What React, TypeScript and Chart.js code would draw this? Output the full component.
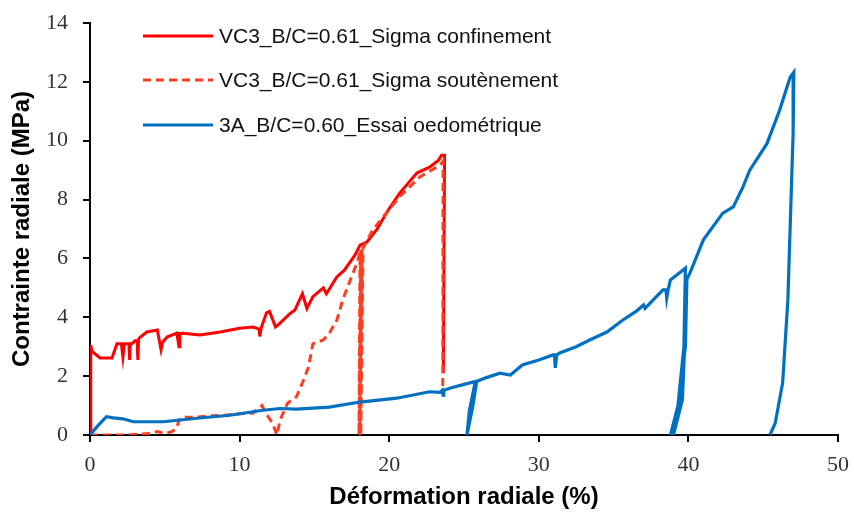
import React, { useEffect, useRef } from "react";
import { Chart, registerables } from "chart.js";

Chart.register(...registerables);

// Déformation radiale (%) / Contrainte radiale (MPa)
const confX = [0, 0.05, 0.12, 0.67, 1.47, 1.8, 2.1, 2.2, 2.3, 2.5, 2.6, 2.65, 2.7, 2.8, 3.0, 3.15, 3.2, 3.25, 3.3, 3.8, 4.5, 4.75, 4.85, 5.15, 5.8, 5.95, 6.0, 6.2, 7.35, 8.7, 10.0, 10.9, 11.3, 11.35, 11.45, 11.8, 12.0, 12.4, 12.7, 13.4, 13.7, 14.2, 14.5, 14.9, 15.6, 15.8, 16.5, 17.0, 17.7, 18.05, 18.5, 19.2, 19.85, 20.7, 21.85, 22.7, 23.3, 23.5, 23.7, 23.62];
const confY = [0, 3.05, 2.85, 2.62, 2.62, 3.1, 3.1, 2.65, 3.1, 3.1, 3.1, 2.55, 3.1, 3.1, 3.2, 3.2, 2.55, 3.25, 3.3, 3.5, 3.57, 2.9, 3.15, 3.33, 3.46, 3.0, 3.45, 3.46, 3.4, 3.5, 3.63, 3.67, 3.6, 3.35, 3.65, 4.15, 4.2, 3.67, 3.8, 4.14, 4.25, 4.8, 4.3, 4.7, 5.0, 4.8, 5.37, 5.6, 6.1, 6.45, 6.55, 7.0, 7.58, 8.22, 8.9, 9.1, 9.34, 9.51, 9.51, 2.1];

const soutX = [0, 1, 2, 3, 4, 4.5, 5, 5.5, 5.8, 5.95, 6.1, 7.0, 8.0, 9.15, 10.0, 10.9, 11.5, 11.8, 12.2, 12.5, 12.7, 13.2, 13.8, 14.2, 14.6, 14.9, 15.6, 16.0, 16.5, 16.9, 17.4, 17.85, 18.05, 17.98, 18.1, 18.03, 18.18, 18.1, 18.25, 18.9, 20.7, 22.05, 23.4, 23.6, 23.58];
const soutY = [0, 0, 0, 0.02, 0.05, 0.12, 0.05, 0.12, 0.25, 0.5, 0.6, 0.6, 0.65, 0.68, 0.72, 0.75, 1.0, 0.7, 0.4, 0.0, 0.5, 1.08, 1.3, 1.77, 2.3, 3.1, 3.23, 3.46, 3.9, 4.6, 5.27, 5.85, 6.2, 0, 6.3, 0, 6.3, 0, 6.35, 6.97, 8.1, 8.77, 9.17, 9.3, 1.55];

const oedoX = [0, 0.5, 1.1, 1.55, 2.2, 2.9, 4.9, 7.15, 9.35, 11.55, 12.7, 13.8, 16.0, 18.05, 20.5, 22.7, 23.4, 23.55, 23.6, 23.65, 24.1, 25.0, 25.85, 25.6, 25.2, 25.35, 25.75, 26.5, 27.4, 28.1, 28.9, 30.0, 30.95, 31.05, 31.1, 31.2, 31.4, 32.5, 33.4, 34.55, 35.6, 36.5, 37.0, 37.1, 38.3, 38.5, 38.55, 38.65, 38.8, 39.8, 39.7, 39.3, 38.8, 39.0, 39.5, 39.75, 39.6, 39.0, 38.9, 39.3, 39.8, 39.9, 40.1, 41.0, 42.3, 43.0, 43.65, 44.1, 45.25, 46.1, 46.8, 47.05, 47.0, 46.65, 46.3, 45.8, 45.45];
const oedoY = [0, 0.3, 0.62, 0.58, 0.55, 0.45, 0.45, 0.57, 0.67, 0.84, 0.9, 0.88, 0.95, 1.12, 1.25, 1.47, 1.45, 1.52, 1.35, 1.52, 1.6, 1.72, 1.83, 1.0, 0, 0.8, 1.8, 1.95, 2.1, 2.04, 2.38, 2.55, 2.72, 2.72, 2.28, 2.72, 2.79, 3.0, 3.23, 3.5, 3.9, 4.2, 4.42, 4.3, 4.93, 4.93, 4.65, 4.95, 5.27, 5.67, 3.0, 1.0, 0, 0, 1.0, 3.0, 1.2, 0, 0, 1.0, 3.0, 5.3, 5.5, 6.63, 7.54, 7.75, 8.43, 9.0, 9.9, 11.04, 12.16, 12.33, 10.26, 4.6, 1.77, 0.4, 0];

const seriesNames = [
  "VC3_B/C=0.61_Sigma confinement",
  "VC3_B/C=0.61_Sigma soutènement",
  "3A_B/C=0.60_Essai oedométrique",
];
const xTitle = "Déformation radiale (%)";
const yTitle = "Contrainte radiale (MPa)";

const RED = "#FF0000";
const ORANGE = "#FF3D1F";
const BLUE = "#0070C0";

const toPts = (xs: number[], ys: number[]) => xs.map((x, i) => ({ x, y: ys[i] }));

const legendPlugin = {
  id: "customLegend",
  afterDraw(chart: any) {
    const ctx = chart.ctx;
    const items = [
      { name: seriesNames[0], color: RED, dash: [] as number[] },
      { name: seriesNames[1], color: ORANGE, dash: [8, 5] },
      { name: seriesNames[2], color: BLUE, dash: [] as number[] },
    ];
    const rows = [36, 80, 125];
    ctx.save();
    items.forEach((it, i) => {
      const y = rows[i];
      ctx.beginPath();
      ctx.strokeStyle = it.color;
      ctx.lineWidth = 3;
      ctx.setLineDash(it.dash);
      ctx.moveTo(143, y);
      ctx.lineTo(213, y);
      ctx.stroke();
      ctx.setLineDash([]);
      ctx.fillStyle = "#111";
      ctx.font = "21px 'Liberation Sans', Arial, sans-serif";
      ctx.textBaseline = "middle";
      ctx.textAlign = "left";
      ctx.fillText(it.name, 219, y + 1);
    });
    ctx.restore();
  },
};

export default function App() {
  const ref = useRef<HTMLCanvasElement | null>(null);
  useEffect(() => {
    if (!ref.current) return;
    const tickFont = { family: "'Liberation Serif', 'Times New Roman', serif", size: 22 };
    const titleFont = { family: "'Liberation Sans', Arial, sans-serif", size: 24, weight: "bold" as const };
    const chart = new Chart(ref.current, {
      type: "scatter",
      data: {
        datasets: [
          {
            label: seriesNames[2],
            data: toPts(oedoX, oedoY),
            showLine: true,
            borderColor: BLUE,
            backgroundColor: BLUE,
            borderWidth: 3.2,
            pointRadius: 0,
            order: 0,
          },
          {
            label: seriesNames[1],
            data: toPts(soutX, soutY),
            showLine: true,
            borderColor: ORANGE,
            backgroundColor: ORANGE,
            borderWidth: 3,
            borderDash: [8, 5],
            pointRadius: 0,
            order: 1,
          },
          {
            label: seriesNames[0],
            data: toPts(confX, confY),
            showLine: true,
            borderColor: RED,
            backgroundColor: RED,
            borderWidth: 3,
            pointRadius: 0,
            order: 2,
          },
        ],
      },
      options: {
        animation: false,
        responsive: false,
        devicePixelRatio: 1,
        layout: { padding: { left: 0, right: 16, top: 23, bottom: 0 } },
        plugins: { legend: { display: false }, tooltip: { enabled: false } },
        scales: {
          x: {
            type: "linear",
            min: 0,
            max: 50,
            ticks: { stepSize: 10, font: tickFont, color: "#333", padding: 10 },
            grid: { drawOnChartArea: false, drawTicks: true, tickLength: 7, color: "#000", lineWidth: 2 },
            border: { display: true, color: "#000", width: 2 },
            title: { display: true, text: xTitle, font: titleFont, color: "#000", padding: { top: 2, bottom: 2 } },
            afterFit: (s: any) => {
              s.height = 79;
              s.paddingLeft = 0;
              s.paddingRight = 0;
            },
          },
          y: {
            type: "linear",
            min: 0,
            max: 14,
            ticks: { stepSize: 2, font: tickFont, color: "#333", padding: 15 },
            grid: { drawOnChartArea: false, drawTicks: true, tickLength: 7, color: "#000", lineWidth: 2 },
            border: { display: true, color: "#000", width: 2 },
            title: { display: true, text: yTitle, font: titleFont, color: "#000", padding: { top: 8, bottom: 2 } },
            afterFit: (s: any) => {
              s.width = 90;
              s.paddingTop = 0;
              s.paddingBottom = 0;
            },
          },
        },
      },
      plugins: [legendPlugin],
    });
    return () => chart.destroy();
  }, []);
  return (
    <div style={{ position: "fixed", left: 0, top: 0, width: 854, height: 514, background: "#fff" }}>
      <canvas ref={ref} width={854} height={514} style={{ display: "block" }} />
    </div>
  );
}
